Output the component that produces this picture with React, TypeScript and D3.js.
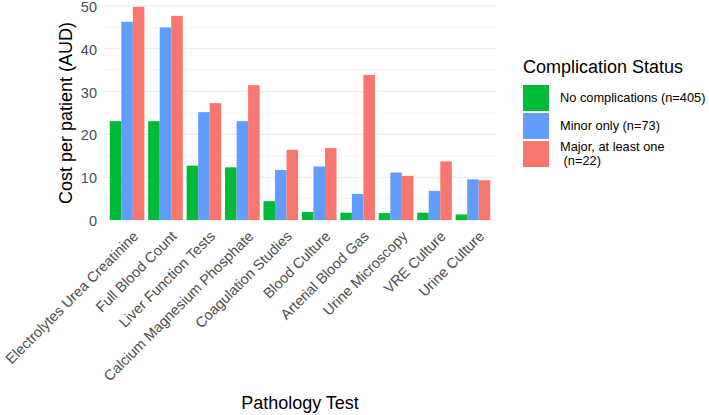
import React from "react";
import * as d3 from "d3";

const categories = [
  "Electrolytes Urea Creatinine",
  "Full Blood Count",
  "Liver Function Tests",
  "Calcium Magnesium Phosphate",
  "Coagulation Studies",
  "Blood Culture",
  "Arterial Blood Gas",
  "Urine Microscopy",
  "VRE Culture",
  "Urine Culture",
];
const seriesNames = ["No complications (n=405)", "Minor only (n=73)", "Major, at least one\n (n=22)"];
const noComplications = [23.1, 23.1, 12.7, 12.3, 4.4, 1.9, 1.7, 1.6, 1.7, 1.3];
const minorOnly = [46.3, 45.0, 25.2, 23.1, 11.7, 12.5, 6.1, 11.1, 6.8, 9.5];
const majorAtLeastOne = [49.8, 47.7, 27.3, 31.5, 16.4, 16.8, 33.9, 10.3, 13.7, 9.3];
const yTicks = [0, 10, 20, 30, 40, 50];
const yMinor = [5, 15, 25, 35, 45];
const colors = ["#00BA38", "#619CFF", "#F8766D"];

const FONT = "'Liberation Sans', Arial, Helvetica, sans-serif";

export default function App() {
  const W = 709, H = 415;
  const left = 104, right = 496, bottom = 220;
  const series = [noComplications, minorOnly, majorAtLeastOne];

  const y = d3.scaleLinear().domain([0, 50]).range([bottom, 6]);
  const unit = (right - left) / 10.2;
  const xCenter = (i: number) => left + (0.6 + i) * unit;
  const x = d3.scaleBand<number>().domain([0, 1, 2]).range([-0.45 * unit, 0.45 * unit]).padding(0);

  return (
    <svg width={W} height={H} style={{ position: "absolute", left: 0, top: 0, background: "#fff" }} fontFamily={FONT}>
      {yMinor.map((t) => (
        <line key={"m" + t} x1={left} x2={right} y1={y(t)} y2={y(t)} stroke="#EBEBEB" strokeWidth={0.6} />
      ))}
      {yTicks.map((t) => (
        <line key={"g" + t} x1={left} x2={right} y1={y(t)} y2={y(t)} stroke="#EBEBEB" strokeWidth={1.1} />
      ))}
      {categories.map((c, i) =>
        series.map((s, k) => (
          <rect
            key={c + k}
            x={xCenter(i) + (x(k) as number)}
            width={x.bandwidth()}
            y={y(s[i])}
            height={bottom - y(s[i])}
            fill={colors[k]}
          />
        ))
      )}
      {yTicks.map((t) => (
        <text key={"yl" + t} x={97} y={y(t) + 1} dy="0.35em" textAnchor="end" fontSize={14.5} fill="#4D4D4D">
          {t}
        </text>
      ))}
      <text transform={`translate(72,${(bottom + 6) / 2}) rotate(-90)`} textAnchor="middle" fontSize={18} fill="#000">
        Cost per patient (AUD)
      </text>
      {categories.map((c, i) => (
        <text
          key={"xl" + i}
          transform={`translate(${xCenter(i) + 5},${bottom + 10}) rotate(-45)`}
          textAnchor="end"
          dy="0.7em"
          fontSize={14.5}
          fill="#4D4D4D"
        >
          {c}
        </text>
      ))}
      <text x={300} y={409} textAnchor="middle" fontSize={18} fill="#000">
        Pathology Test
      </text>
      <text x={523} y={73} fontSize={18} fill="#000">
        Complication Status
      </text>
      {seriesNames.map((n, k) => {
        const ky = 85 + k * 28;
        const lines = n.split("\n");
        return (
          <g key={"lg" + k}>
            <rect x={523} y={ky} width={26} height={26} fill={colors[k]} />
            {lines.map((ln, j) => (
              <text
                key={j}
                x={560}
                y={ky + 13 + (j - (lines.length - 1) / 2) * 14}
                dy="0.35em"
                fontSize={12.8}
                fill="#000"
                style={{ whiteSpace: "pre" }}
              >
                {ln}
              </text>
            ))}
          </g>
        );
      })}
    </svg>
  );
}
